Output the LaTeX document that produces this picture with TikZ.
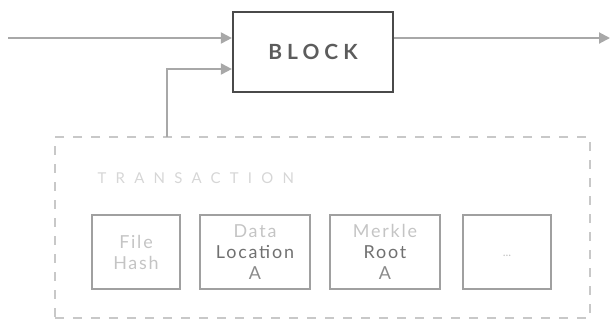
\documentclass[tikz,border=0pt]{standalone}
\usepackage{fontspec}
\setmainfont{Lato}
\newfontfamily\blockfont[LetterSpace=24]{Lato}
\newfontfamily\txfont[LetterSpace=62]{Lato}
\newfontfamily\itemfont[LetterSpace=10]{Lato}
\usetikzlibrary{arrows.meta}
\definecolor{arrowgray}{HTML}{A8A8A8}
\definecolor{boxdark}{HTML}{4A4A4A}
\definecolor{dashgray}{HTML}{C8C8C8}
\definecolor{itemgray}{HTML}{A0A0A0}
\definecolor{lighttext}{HTML}{C4C4C4}
\definecolor{midtext}{HTML}{8A8A8A}
\definecolor{darktext}{HTML}{707070}
\begin{document}
\begin{tikzpicture}[x=1bp,y=-1bp,
  flow/.style={draw=arrowgray,line width=2bp,-{Triangle[length=11bp,width=11bp]}},
  blockbox/.style={draw=boxdark,line width=2.2bp,minimum width=160bp,minimum height=80bp,inner sep=0pt,
    font=\blockfont\bfseries\fontsize{21}{24}\selectfont,text=boxdark!90},
  txbox/.style={draw=dashgray,line width=1.6bp,dash pattern=on 9bp off 9bp,minimum width=535bp,minimum height=181bp,inner sep=0pt},
  itembox/.style={draw=itemgray,line width=1.6bp,minimum height=74bp,inner sep=0pt,align=center,
    font=\itemfont\fontsize{18}{21}\selectfont,text=lighttext}
]
\useasboundingbox (0,0) rectangle (610,321);
\node[blockbox] (block) at (313,52) {BLOCK};
\node[txbox] (tx) at (322.5,227.5) {};
\node[anchor=west,text=lighttext!70,font=\txfont\fontsize{15}{16}\selectfont] (txlabel) at (94,178) {TRANSACTION};
\node[itembox,minimum width=88bp] (hash) at (136,252) {File\\Hash};
\node[itembox,minimum width=110bp] (loc) at (255,252) {Data\\\textcolor{darktext}{Location}\\\textcolor{midtext}{A}};
\node[itembox,minimum width=110bp] (root) at (385,252) {Merkle\\\textcolor{darktext}{Root}\\\textcolor{midtext}{A}};
\node[itembox,minimum width=88bp,font=\fontsize{12}{14}\selectfont,text depth=0pt,text height=8bp] (more) at (507,252) {...};
\coordinate (in) at (8,38);
\coordinate (out) at (610,38);
\coordinate (up) at (167,137);
\draw[flow] (in) -- (in -| block.west);
\draw[flow] (block.east |- out) -- (out);
\draw[flow] (up) |- (block.west |- 0,69);
\end{tikzpicture}
\end{document}
